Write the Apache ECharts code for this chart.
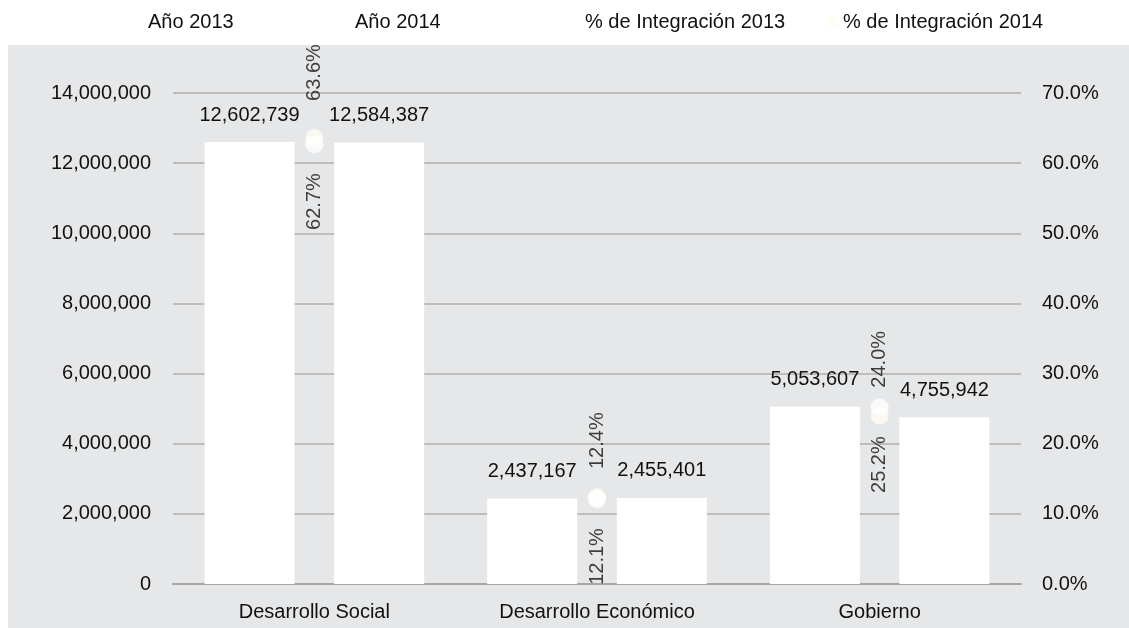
<!DOCTYPE html>
<html>
<head>
<meta charset="utf-8">
<script src="https://cdn.jsdelivr.net/npm/echarts@6/dist/echarts.min.js"></script>
<style>
html,body{margin:0;padding:0;background:#fff;}
#c{width:1129px;height:628px;}
</style>
</head>
<body>
<div id="c"></div>
<script>
const categories = ['Desarrollo Social', 'Desarrollo Económico', 'Gobierno'];
const values2013 = [12602739, 2437167, 5053607];
const values2014 = [12584387, 2455401, 4755942];
const pct2013 = [62.7, 12.1, 25.2];
const pct2014 = [63.6, 12.4, 24.0];
const seriesNames = ['Año 2013', 'Año 2014', '% de Integración 2013', '% de Integración 2014'];

const FONT = '"Liberation Sans", Arial, sans-serif';
const FS = 20;
const txt = {color: '#111', fontFamily: FONT, fontSize: FS};

const fmtNum = v => Number(v).toLocaleString('en-US');

const chart = echarts.init(document.getElementById('c'), null, {renderer: 'canvas'});

function legendAt(name, left, icon, color) {
  return {
    data: [{name: name, icon: icon, itemStyle: {color: color}}],
    left: left, top: 12, padding: 0,
    itemWidth: 11, itemHeight: 11, itemGap: 0,
    textStyle: Object.assign({}, txt, {padding: [0, 0, 0, 0]}),
    selectedMode: false
  };
}

// top-label distance for the first category is larger in the reference
const pct2014Data = pct2014.map((v, i) => i === 0 ? {value: v, label: {distance: 28}} : v);

chart.setOption({
  animation: false,
  backgroundColor: '#ffffff',
  graphic: [{
    type: 'rect', left: 8, top: 45, z: -10, silent: true,
    shape: {width: 1121, height: 583},
    style: {fill: '#e6e7e8'}
  }],
  legend: [
    legendAt(seriesNames[0], 132, 'rect', '#ffffff'),
    legendAt(seriesNames[1], 339, 'rect', '#ffffff'),
    legendAt(seriesNames[2], 569, 'circle', '#ffffff'),
    legendAt(seriesNames[3], 827, 'circle', '#fffdf0')
  ],
  grid: {left: 173, right: 108, top: 93, bottom: 44, containLabel: false},
  xAxis: {
    type: 'category', data: categories,
    axisLine: {lineStyle: {color: '#a6a6a6', width: 2}},
    axisTick: {show: false},
    axisLabel: Object.assign({}, txt, {margin: 18, interval: 0})
  },
  yAxis: [{
    type: 'value', min: 0, max: 14000000, interval: 2000000,
    axisLine: {show: false}, axisTick: {show: false},
    splitLine: {lineStyle: {color: '#bdbdbd', width: 2}},
    axisLabel: Object.assign({}, txt, {margin: 22, formatter: v => fmtNum(v)})
  }, {
    type: 'value', min: 0, max: 70, interval: 10,
    axisLine: {show: false}, axisTick: {show: false},
    splitLine: {show: false},
    axisLabel: Object.assign({}, txt, {margin: 21, formatter: v => v.toFixed(1) + '%'})
  }],
  series: [{
    name: seriesNames[0], type: 'bar', data: values2013,
    barWidth: 90, barGap: '44%',
    itemStyle: {color: '#ffffff'},
    label: Object.assign({}, txt, {show: true, position: 'top', distance: 17, formatter: p => fmtNum(p.value)})
  }, {
    name: seriesNames[1], type: 'bar', data: values2014,
    barWidth: 90,
    itemStyle: {color: '#ffffff'},
    label: Object.assign({}, txt, {show: true, position: 'top', distance: 17, formatter: p => fmtNum(p.value)})
  }, {
    name: seriesNames[3], type: 'scatter', yAxisIndex: 1, data: pct2014Data,
    symbol: 'circle', symbolSize: 18, z: 3,
    itemStyle: {color: '#fffdf0'},
    label: Object.assign({}, txt, {show: true, position: 'top', distance: 19, rotate: 90,
      align: 'left', verticalAlign: 'middle', formatter: p => p.value.toFixed(1) + '%'})
  }, {
    name: seriesNames[2], type: 'scatter', yAxisIndex: 1, data: pct2013,
    symbol: 'circle', symbolSize: 18, z: 4,
    itemStyle: {color: '#ffffff'},
    label: Object.assign({}, txt, {show: true, position: 'bottom', distance: 20, rotate: 90,
      align: 'right', verticalAlign: 'middle', formatter: p => p.value.toFixed(1) + '%'})
  }]
});
</script>
</body>
</html>
